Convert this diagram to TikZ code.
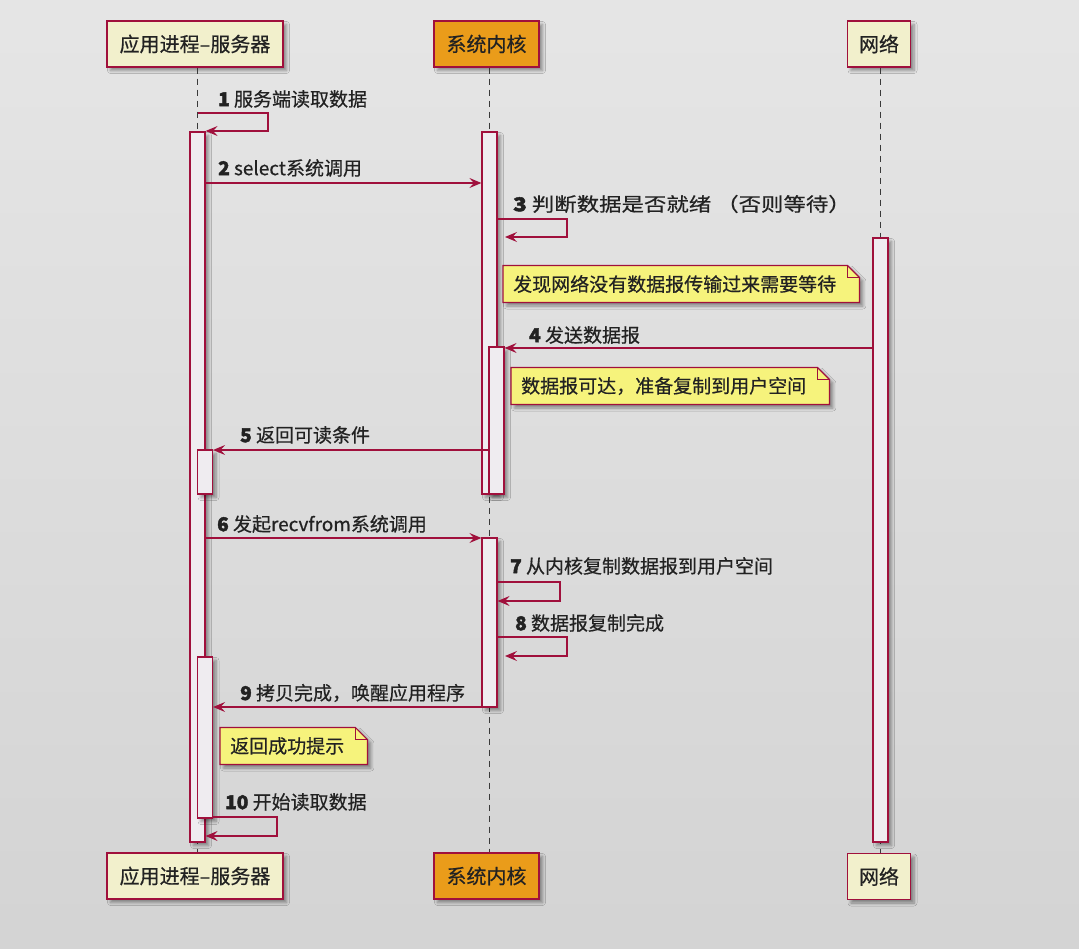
\documentclass[tikz,border=0pt]{standalone}
\usepackage{fontspec}
\usepackage{graphicx}
\setmainfont{Noto Sans CJK SC}[FakeBold=0.5, BoldFeatures={FakeBold=2.2}]
\usetikzlibrary{arrows.meta,shadows.blur,calc}
\definecolor{pred}{HTML}{A0103C}
\definecolor{pfill}{HTML}{F2F0CC}
\definecolor{korange}{HTML}{EA9C1A}
\definecolor{notey}{HTML}{F6F37C}
\definecolor{barfill}{HTML}{EFECF0}
\definecolor{txt}{HTML}{222222}
\definecolor{lifec}{HTML}{3A3A3A}
\newcommand{\notebox}[1]{%
  \draw[notefill] ([shift={(-10pt,18.5pt)}]#1.west) -- ([shift={(11pt,18.5pt)}]#1.east) -- ([shift={(23pt,6.5pt)}]#1.east) -- ([shift={(23pt,-18.5pt)}]#1.east) -- ([shift={(-10pt,-18.5pt)}]#1.west) -- cycle;
  \draw[noteline] ([shift={(11pt,18.5pt)}]#1.east) -- ([shift={(11pt,6.5pt)}]#1.east) -- ([shift={(23pt,6.5pt)}]#1.east);
}
\begin{document}
\begin{tikzpicture}[x=1pt,y=-1pt,
  shad/.style={blur shadow={shadow xshift=3.5pt,shadow yshift=-3.5pt,shadow blur radius=3pt,shadow blur steps=6,shadow opacity=40}},
  part/.style={draw=pred, line width=1.3pt, fill=pfill, minimum height=46pt, inner sep=0pt, font=\fontsize{20}{20}\selectfont, text=txt, shad},
  bar/.style={draw=pred, line width=1.2pt, fill=barfill, minimum width=15pt, inner sep=0pt, shad},
  life/.style={draw=lifec, line width=1pt, dash pattern=on 6pt off 5pt},
  arr/.style={draw=pred, line width=1.2pt, -{Stealth[length=12pt,width=10pt,inset=4.5pt]}},
  lbl/.style={anchor=west, inner sep=0pt, font=\fontsize{19}{19}\selectfont, text=txt},
  notetext/.style={anchor=west, inner sep=0pt, font=\fontsize{19}{19}\selectfont, text=txt},
  notefill/.style={draw=pred, line width=1.2pt, fill=notey, shad},
  noteline/.style={draw=pred, line width=1.2pt}
]
\fill[top color=black!10, bottom color=black!17] (0,0) rectangle (1079,949);
\useasboundingbox (0,0) rectangle (1079,949);

% participants
\node[part, minimum width=176pt] (sT) at (195,44) {应用进程–服务器};
\node[part, minimum width=105pt, fill=korange] (kT) at (486.5,44) {系统内核};
\node[part, minimum width=63pt] (nT) at (879,44) {网络};
\node[part, minimum width=176pt] (sBt) at (195,876) {应用进程–服务器};
\node[part, minimum width=105pt, fill=korange] (kBt) at (486.5,876) {系统内核};
\node[part, minimum width=63pt] (nBt) at (879,876.5) {网络};

% lifelines
\coordinate (sL) at (197.5,0);
\coordinate (kL) at (489.5,0);
\coordinate (nL) at (880.5,0);
\draw[life] (sL |- sT.south) -- (sL |- sBt.north);
\draw[life] (kL |- kT.south) -- (kL |- kBt.north);
\draw[life] (nL |- nT.south) -- (nL |- nBt.north);

% activation bars
\node[bar, minimum height=710pt] (sA) at (197.5,487) {};
\node[bar, minimum height=44pt] (sB) at (205,472) {};
\node[bar, minimum height=161pt] (sC) at (205,737.5) {};
\node[bar, minimum height=362pt] (kA) at (489.5,313) {};
\node[bar, minimum height=147pt] (kB) at (496.5,420.5) {};
\node[bar, minimum height=169pt] (kC) at (489.5,622.5) {};
\node[bar, minimum height=604pt] (nA) at (880.5,540) {};

% messages
\coordinate (c1) at (268,131);
\draw[arr] (sL |- 0,113) -| (c1) -- (sA.east |- c1);
\node[lbl] (l1) at (218,99) {\textbf{1} 服务端读取数据};

\draw[arr] (sA.east |- 0,183) -- (kA.west |- 0,183);
\node[lbl] (l2) at (218,168) {\textbf{2} select系统调用};

\coordinate (c3) at (567,237);
\coordinate (t3) at (505,237);
\draw[arr] (kA.east |- 0,219) -| (c3) -- (t3);
\node[lbl] (l3) at (513,204) {\scalebox{1.18}[1]{\textbf{3} 判断数据是否就绪 （否则等待）}};

\path node[notetext, opacity=0] (n1) at (513,284) {发现网络没有数据报传输过来需要等待};
\notebox{n1}
\node[notetext, anchor=center] at (n1.center) {发现网络没有数据报传输过来需要等待};

\draw[arr] (nA.west |- 0,348) -- (kB.east |- 0,348);
\node[lbl] (l4) at (529,335) {\textbf{4} 发送数据报};

\path node[notetext, opacity=0] (n2) at (521,386) {数据报可达，准备复制到用户空间};
\notebox{n2}
\node[notetext, anchor=center] at (n2.center) {数据报可达，准备复制到用户空间};

\draw[arr] (kB.west |- 0,450) -- (sB.east |- 0,450);
\node[lbl] (l5) at (240,435) {\textbf{5} 返回可读条件};

\draw[arr] (sA.east |- 0,538) -- (kC.west |- 0,538);
\node[lbl] (l6) at (217,524) {\textbf{6} 发起recvfrom系统调用};

\coordinate (c7) at (560,601);
\draw[arr] (kC.east |- 0,582) -| (c7) -- (kC.east |- c7);
\node[lbl] (l7) at (510,566) {\textbf{7} 从内核复制数据报到用户空间};

\coordinate (c8) at (567,656);
\coordinate (t8) at (505,656);
\draw[arr] (kC.east |- 0,637) -| (c8) -- (t8);
\node[lbl] (l8) at (515,623) {\textbf{8} 数据报复制完成};

\draw[arr] (kC.west |- 0,707) -- (sC.east |- 0,707);
\node[lbl] (l9) at (240,693) {\textbf{9} 拷贝完成，唤醒应用程序};

\path node[notetext, opacity=0] (n3) at (230,746) {返回成功提示};
\notebox{n3}
\node[notetext, anchor=center] at (n3.center) {返回成功提示};

\coordinate (c10) at (277,836);
\draw[arr] (sC.east |- 0,817) -| (c10) -- (sA.east |- c10);
\node[lbl] (l10) at (225,802) {\textbf{10} 开始读取数据};
\end{tikzpicture}
\end{document}
